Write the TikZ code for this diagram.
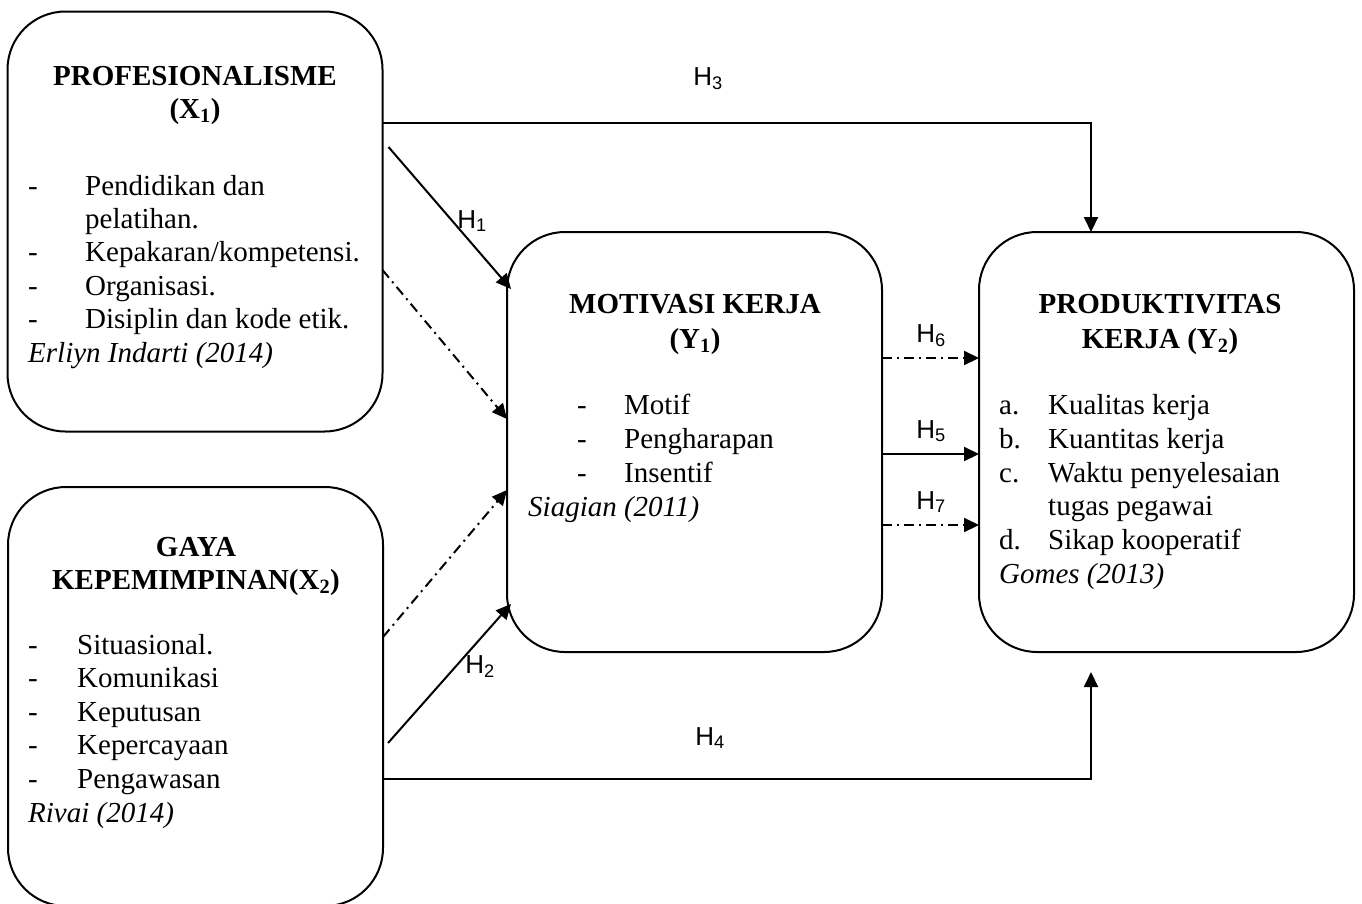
\documentclass[tikz,border=0pt]{standalone}
\usepackage{fontspec}
\setmainfont{Liberation Serif}
\newfontfamily\hfont{Liberation Sans}
\usetikzlibrary{arrows.meta,calc}
\newcommand\tx{\fontsize{29}{33.4}\selectfont}
\newcommand\hx{\hfont\fontsize{26}{30}\selectfont}
\begin{document}
\begin{tikzpicture}[x=1pt,y=-1pt,
  box/.style={draw, line width=2pt, rounded corners=58pt, minimum width=375pt,
    minimum height=420pt, outer sep=0pt, inner sep=0pt},
  txt/.style={inner sep=0pt, anchor=base west, font=\tx},
  ttl/.style={inner sep=0pt, anchor=base, font=\tx\bfseries},
  hl/.style={inner sep=0pt, anchor=base, font=\hx},
  arr/.style={line width=2pt, -{Triangle[length=15pt,width=14pt]}},
  dd/.style={arr, dash pattern=on 10pt off 5pt on 2pt off 5pt}]
\useasboundingbox (0,0) rectangle (1362,903);
\clip (0,0) rectangle (1362,903);
\fill[white] (0,0) rectangle (1362,903);

% boxes
\node[box] (x1) at (195,221.5) {};
\node[box, minimum height=419pt] (x2) at (195.5,696.5) {};
\node[box] (y1) at (694.5,442) {};
\node[box] (y2) at (1166.5,442) {};

% X1 text
\node[ttl] (x1t1) at (195,85) {PROFESIONALISME};
\node[ttl] (x1t2) at (195,118) {(X\textsubscript{1})};
\node[txt] (x1d1) at (28,195) {-};
\node[txt] (x1i1) at (85,195) {Pendidikan dan};
\node[txt] (x1i1b) at (85,228.4) {pelatihan.};
\node[txt] (x1d2) at (28,261.8) {-};
\node[txt] (x1i2) at (85,261.8) {Kepakaran/kompetensi.};
\node[txt] (x1d3) at (28,295.2) {-};
\node[txt] (x1i3) at (85,295.2) {Organisasi.};
\node[txt] (x1d4) at (28,328.6) {-};
\node[txt] (x1i4) at (85,328.6) {Disiplin dan kode etik.};
\node[txt] (x1s) at (28,362) {\itshape Erliyn Indarti (2014)};

% X2 text
\node[ttl] (x2t1) at (196,556) {GAYA};
\node[ttl] (x2t2) at (196,589) {KEPEMIMPINAN(X\textsubscript{2})};
\node[txt] (x2d1) at (28,654) {-};
\node[txt] (x2i1) at (77,654) {Situasional.};
\node[txt] (x2d2) at (28,687.6) {-};
\node[txt] (x2i2) at (77,687.6) {Komunikasi};
\node[txt] (x2d3) at (28,721.2) {-};
\node[txt] (x2i3) at (77,721.2) {Keputusan};
\node[txt] (x2d4) at (28,754.8) {-};
\node[txt] (x2i4) at (77,754.8) {Kepercayaan};
\node[txt] (x2d5) at (28,788.4) {-};
\node[txt] (x2i5) at (77,788.4) {Pengawasan};
\node[txt] (x2s) at (28,822) {\itshape Rivai (2014)};

% Y1 text
\node[ttl] (y1t1) at (695,313) {MOTIVASI KERJA};
\node[ttl] (y1t2) at (695,348) {(Y\textsubscript{1})};
\node[txt] (y1d1) at (577,414) {-};
\node[txt] (y1i1) at (624,414) {Motif};
\node[txt] (y1d2) at (577,448) {-};
\node[txt] (y1i2) at (624,448) {Pengharapan};
\node[txt] (y1d3) at (577,482) {-};
\node[txt] (y1i3) at (624,482) {Insentif};
\node[txt] (y1s) at (528,516) {\itshape Siagian (2011)};

% Y2 text
\node[ttl] (y2t1) at (1160,313) {PRODUKTIVITAS};
\node[ttl] (y2t2) at (1160,348) {KERJA (Y\textsubscript{2})};
\node[txt] (y2a) at (999,414) {a.};
\node[txt] (y2i1) at (1048,414) {Kualitas kerja};
\node[txt] (y2b) at (999,448) {b.};
\node[txt] (y2i2) at (1048,448) {Kuantitas kerja};
\node[txt] (y2c) at (999,482) {c.};
\node[txt] (y2i3) at (1048,482) {Waktu penyelesaian};
\node[txt] (y2i3b) at (1048,515.5) {tugas pegawai};
\node[txt] (y2d) at (999,549) {d.};
\node[txt] (y2i4) at (1048,549) {Sikap kooperatif};
\node[txt] (y2s) at (999,583) {\itshape Gomes (2013)};

% connectors
\coordinate (h4e) at (1091,672);
\draw[arr] (x1.east |- 0,123) -| (y2.north -| 1091,0);
\draw[arr] (x2.east |- 0,779) -| (h4e);
\draw[arr] ($(x1.east |- 0,147)+(6,0)$) -- ($(y1.west |- 0,289)+(4,0)$);
\draw[dd] (x1.east |- 0,270) -- (y1.west |- 0,419);
\draw[dd] (x2.east |- 0,637) -- (y1.west |- 0,490);
\draw[arr] ($(x2.east |- 0,743)+(5,0)$) -- ($(y1.west |- 0,604)+(4,0)$);
\draw[dd] (y1.east |- 0,358) -- (y2.west |- 0,358);
\draw[arr] (y1.east |- 0,454) -- (y2.west |- 0,454);
\draw[dd] (y1.east |- 0,525) -- (y2.west |- 0,525);

% labels
\node[hl] (h3) at (708,85) {H\textsubscript{3}};
\node[hl] (h1) at (472,228) {H\textsubscript{1}};
\node[hl] (h2) at (480,673) {H\textsubscript{2}};
\node[hl] (h4) at (710,745) {H\textsubscript{4}};
\node[hl] (h6) at (931,342) {H\textsubscript{6}};
\node[hl] (h5) at (931,438) {H\textsubscript{5}};
\node[hl] (h7) at (931,509) {H\textsubscript{7}};
\end{tikzpicture}
\end{document}
